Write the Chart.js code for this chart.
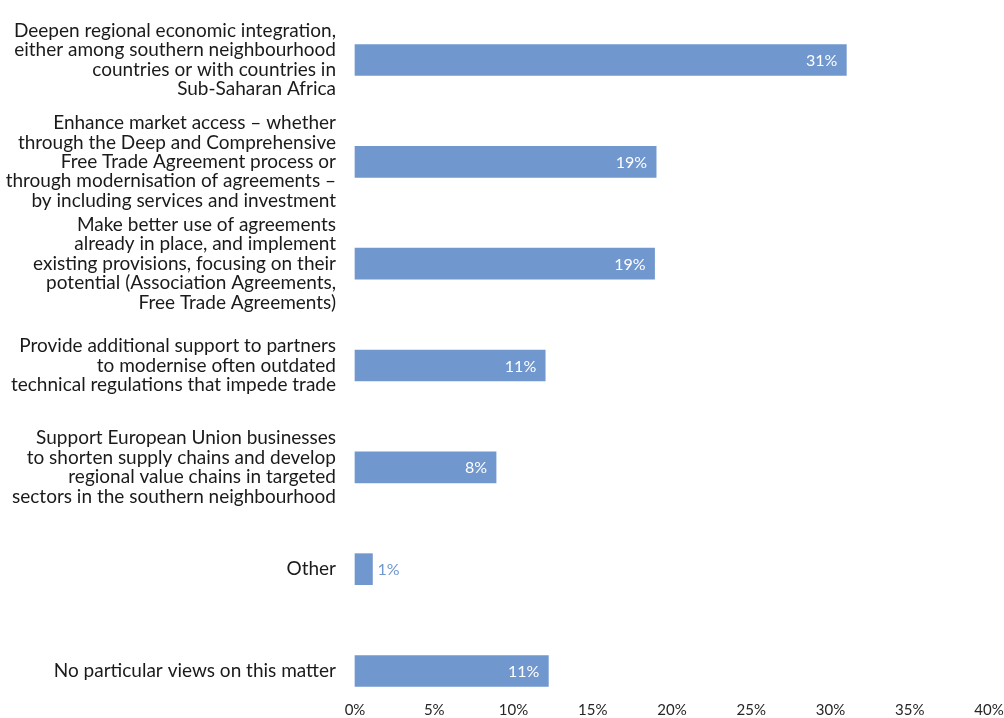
<!DOCTYPE html>
<html>
<head>
<meta charset="utf-8">
<script src="https://cdn.jsdelivr.net/npm/chart.js@4/dist/chart.umd.min.js"></script>
<style>
  html, body { margin: 0; padding: 0; background: #ffffff; }
  #wrap { width: 1004px; height: 718px; position: relative; }
</style>
</head>
<body>
<div id="wrap"><canvas id="c" width="1004" height="718"></canvas></div>
<script>
// ---- data ----
const categories = [
  ["Deepen regional economic integration,", "either among southern neighbourhood", "countries or with countries in", "Sub-Saharan Africa"],
  ["Enhance market access \u2013 whether", "through the Deep and Comprehensive", "Free Trade Agreement process or", "through modernisation of agreements \u2013", "by including services and investment"],
  ["Make better use of agreements", "already in place, and implement", "existing provisions, focusing on their", "potential (Association Agreements,", "Free Trade Agreements)"],
  ["Provide additional support to partners", "to modernise often outdated", "technical regulations that impede trade"],
  ["Support European Union businesses", "to shorten supply chains and develop", "regional value chains in targeted", "sectors in the southern neighbourhood"],
  ["Other"],
  ["No particular views on this matter"]
];
const values = [31.0, 19.0, 18.9, 12.0, 8.9, 1.1, 12.2];
const valueLabels = ["31%", "19%", "19%", "11%", "8%", "1%", "11%"];
const xTickValues = [0, 5, 10, 15, 20, 25, 30, 35, 40];
const xTickLabels = ["0%", "5%", "10%", "15%", "20%", "25%", "30%", "35%", "40%"];

const BAR_COLOR = "#7097CE";
const FONT = "Lato, 'Open Sans', sans-serif";

const valueLabelPlugin = {
  id: 'valueLabels',
  afterDatasetsDraw(chart) {
    const ctx = chart.ctx;
    const meta = chart.getDatasetMeta(0);
    ctx.save();
    ctx.font = "16px " + FONT;
    ctx.textBaseline = 'middle';
    meta.data.forEach((bar, i) => {
      const txt = valueLabels[i];
      const w = ctx.measureText(txt).width;
      const len = bar.x - bar.base;
      if (len > w + 20) {
        ctx.fillStyle = '#ffffff';
        ctx.textAlign = 'right';
        ctx.fillText(txt, bar.x - 9, bar.y + 1);
      } else {
        ctx.fillStyle = BAR_COLOR;
        ctx.textAlign = 'left';
        ctx.fillText(txt, bar.x + 5, bar.y + 1);
      }
    });
    ctx.restore();
  }
};

new Chart(document.getElementById('c'), {
  type: 'bar',
  data: {
    labels: categories,
    datasets: [{
      data: values,
      backgroundColor: BAR_COLOR,
      borderWidth: 0,
      barThickness: 31,
      clip: false
    }]
  },
  options: {
    indexAxis: 'y',
    responsive: false,
    animation: false,
    events: [],
    layout: { padding: { top: 60, left: 0, right: 0, bottom: 0 } },
    plugins: { legend: { display: false }, tooltip: { enabled: false } },
    scales: {
      x: {
        min: 0,
        max: 40,
        afterBuildTicks(scale) { scale.ticks = xTickValues.map(v => ({ value: v })); },
        afterFit(scale) { scale.height = 47; scale.paddingLeft = 0; scale.paddingRight = 15; },
        grid: { display: false, drawTicks: false },
        border: { display: false },
        ticks: {
          padding: 32,
          color: '#262626',
          font: { family: FONT, size: 15, lineHeight: 1 },
          maxRotation: 0,
          callback: (v) => xTickLabels[xTickValues.indexOf(v)]
        }
      },
      y: {
        offset: false,
        grid: { display: false, drawTicks: false },
        border: { display: false },
        afterFit(scale) { scale.width = 355; scale.paddingTop = 0; scale.paddingBottom = 0; },
        ticks: {
          autoSkip: false,
          padding: 19,
          color: '#1a1a1a',
          font: { family: FONT, size: 19, lineHeight: 1.02 }
        }
      }
    }
  },
  plugins: [valueLabelPlugin]
});
</script>
</body>
</html>
